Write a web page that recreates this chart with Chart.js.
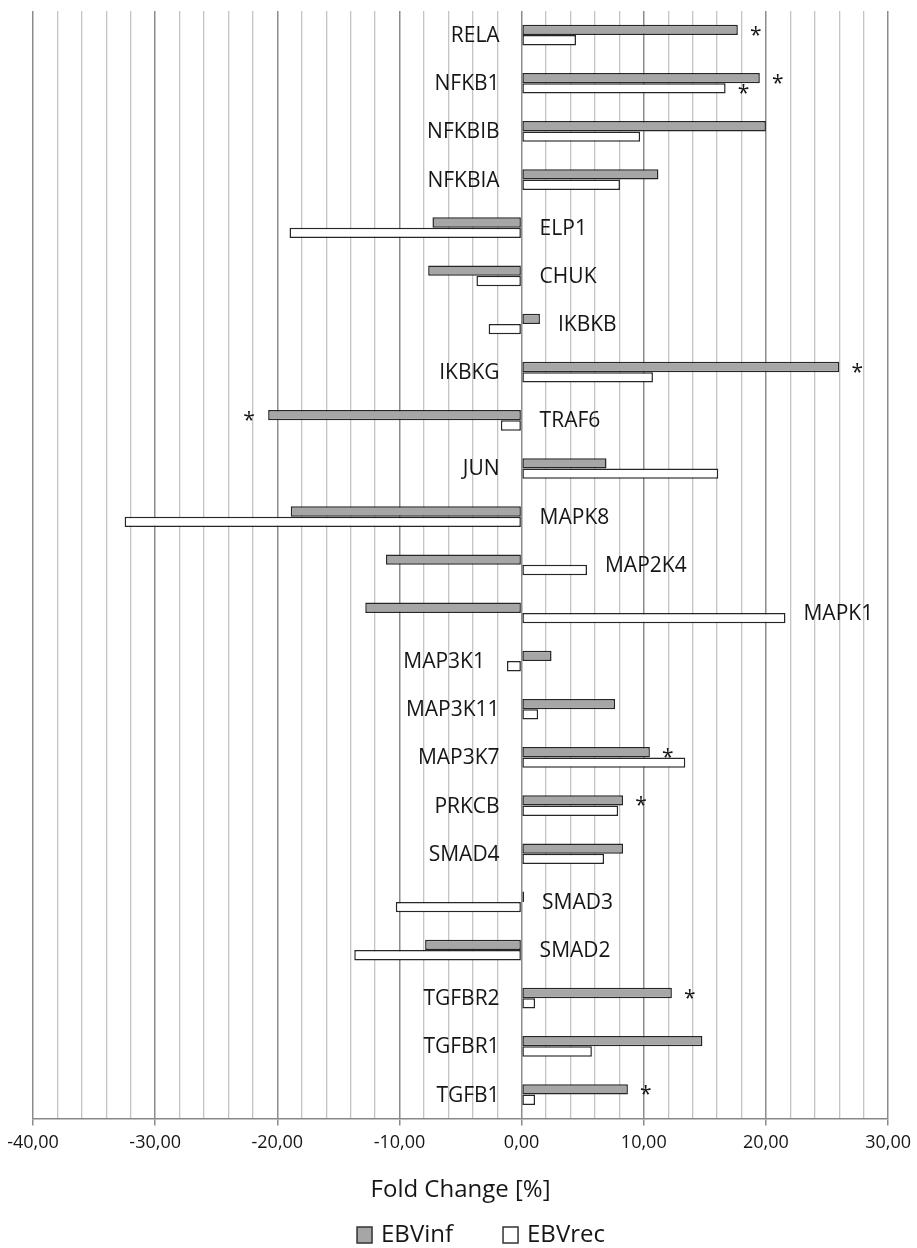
<!DOCTYPE html>
<html>
<head>
<meta charset="utf-8">
<script src="https://cdn.jsdelivr.net/npm/chart.js@4/dist/chart.umd.min.js"></script>
<style>
  html, body { margin: 0; padding: 0; background: #fff; }
  #wrap { width: 917px; height: 1248px; position: relative; }
</style>
</head>
<body>
<div id="wrap"><canvas id="myChart"></canvas></div>
<script>
// gene order top to bottom
const genes = ["RELA", "NFKB1", "NFKBIB", "NFKBIA", "ELP1", "CHUK", "IKBKB", "IKBKG",
  "TRAF6", "JUN", "MAPK8", "MAP2K4", "MAPK1", "MAP3K1", "MAP3K11", "MAP3K7",
  "PRKCB", "SMAD4", "SMAD3", "SMAD2", "TGFBR2", "TGFBR1", "TGFB1"];

// fold change [%]
const ebvInf = [17.7, 19.5, 20.0, 11.2, -7.3, -7.65, 1.5, 26.0,
  -20.75, 6.95, -18.9, -11.1, -12.8, 2.45, 7.65, 10.5,
  8.3, 8.3, 0.2, -7.9, 12.3, 14.8, 8.7];
const ebvRec = [4.45, 16.7, 9.7, 8.05, -19.0, -3.7, -2.7, 10.75,
  -1.7, 16.1, -32.5, 5.35, 21.6, -1.2, 1.35, 13.4,
  7.9, 6.75, -10.3, -13.7, 1.1, 5.75, 1.1];

// genes marked with * (significant)
const sigInf = ["RELA", "NFKB1", "IKBKG", "TRAF6", "MAP3K7", "PRKCB", "TGFBR2", "TGFB1"];
const sigRec = ["NFKB1"];

const axisMin = -40;
const axisMax = 30;

const txt = "#161616";
const fontName = "'Open Sans', 'DejaVu Sans', sans-serif";

function fmt(v) {
  return v.toFixed(2).replace(".", ",");
}

// gene names and stars next to the bars
const annotate = {
  id: "annotate",
  afterDatasetsDraw(chart) {
    const c = chart.ctx;
    const x = chart.scales.x;
    const y = chart.scales.y;
    c.save();
    c.fillStyle = txt;

    c.font = "21px " + fontName;
    c.textBaseline = "middle";
    genes.forEach((g, i) => {
      const lo = Math.min(ebvInf[i], ebvRec[i]);
      const hi = Math.max(ebvInf[i], ebvRec[i]);
      const yy = y.getPixelForValue(i) + 1;
      if (lo < -2) {
        c.textAlign = "left";
        c.fillText(g, x.getPixelForValue(Math.max(0, hi)) + 18, yy);
      } else {
        c.textAlign = "right";
        c.fillText(g, x.getPixelForValue(Math.min(0, lo)) - 22, yy);
      }
    });

    c.font = "21px " + fontName;
    c.textAlign = "center";
    c.textBaseline = "alphabetic";
    [sigInf, sigRec].forEach((list, d) => {
      const meta = chart.getDatasetMeta(d);
      const vals = d === 0 ? ebvInf : ebvRec;
      list.forEach(g => {
        const i = genes.indexOf(g);
        const bar = meta.data[i];
        const sx = vals[i] >= 0 ? bar.x + 18 : bar.x - 19;
        c.fillText("*", sx, bar.y + 12);
      });
    });
    c.restore();
  },
  afterDraw(chart) {
    // legend under the axis title
    const c = chart.ctx;
    const ds = chart.data.datasets;
    c.save();
    c.font = "24px " + fontName;
    c.textBaseline = "middle";
    c.textAlign = "left";
    const box = 15, gap = 9, itemGap = 50;
    const widths = ds.map(d => c.measureText(d.label).width);
    const total = widths.reduce((a, w) => a + box + gap + w, 0) + itemGap * (ds.length - 1);
    let lx = 481 - total / 2;
    const ly = 1235;
    ds.forEach((d, k) => {
      c.fillStyle = d.backgroundColor;
      c.fillRect(lx, ly - 8, box, 16);
      c.strokeStyle = "#333";
      c.lineWidth = 1.5;
      c.strokeRect(lx, ly - 8, box, 16);
      c.fillStyle = txt;
      c.fillText(d.label, lx + box + gap, ly);
      lx += box + gap + widths[k] + itemGap;
    });
    c.restore();
  }
};

const ctx = document.getElementById("myChart").getContext("2d");
const chart = new Chart(ctx, {
  type: "bar",
  data: {
    labels: genes,
    datasets: [
      {
        label: "EBVinf",
        data: ebvInf,
        backgroundColor: "#a6a6a6",
        borderColor: "#262626",
        borderWidth: 1.5,
        borderSkipped: false,
      },
      {
        label: "EBVrec",
        data: ebvRec,
        backgroundColor: "#ffffff",
        borderColor: "#262626",
        borderWidth: 1.5,
        borderSkipped: false,
      },
    ],
  },
  options: {
    indexAxis: "y",
    responsive: true,
    maintainAspectRatio: false,
    animation: false,
    categoryPercentage: 0.43,
    barPercentage: 1.0,
    layout: {
      padding: { top: 11, left: 33, right: 27, bottom: 43 },
    },
    plugins: {
      legend: { display: false },
      tooltip: { enabled: false },
    },
    scales: {
      y: {
        type: "category",
        display: false,
      },
      x: {
        type: "linear",
        min: axisMin,
        max: axisMax,
        border: { display: true, color: "#888", width: 1.5 },
        grid: {
          color: c => (c.tick && c.tick.value % 10 === 0 ? "#8c8c8c" : "#c4c4c4"),
          lineWidth: c => (c.tick && c.tick.value % 10 === 0 ? 1.5 : 1.3),
          drawTicks: true,
          tickLength: 7,
          tickColor: c => (c.tick && c.tick.value % 10 === 0 ? "#8c8c8c" : "rgba(0,0,0,0)"),
        },
        ticks: {
          stepSize: 2,
          autoSkip: false,
          maxRotation: 0,
          padding: 6,
          color: txt,
          font: { family: fontName, size: 18 },
          callback: v => (v % 10 === 0 ? fmt(v) : ""),
        },
        title: {
          display: true,
          text: "Fold Change [%]",
          color: txt,
          font: { family: fontName, size: 24 },
          padding: { top: 17, bottom: 0 },
        },
      },
    },
  },
  plugins: [annotate],
});
</script>
</body>
</html>
